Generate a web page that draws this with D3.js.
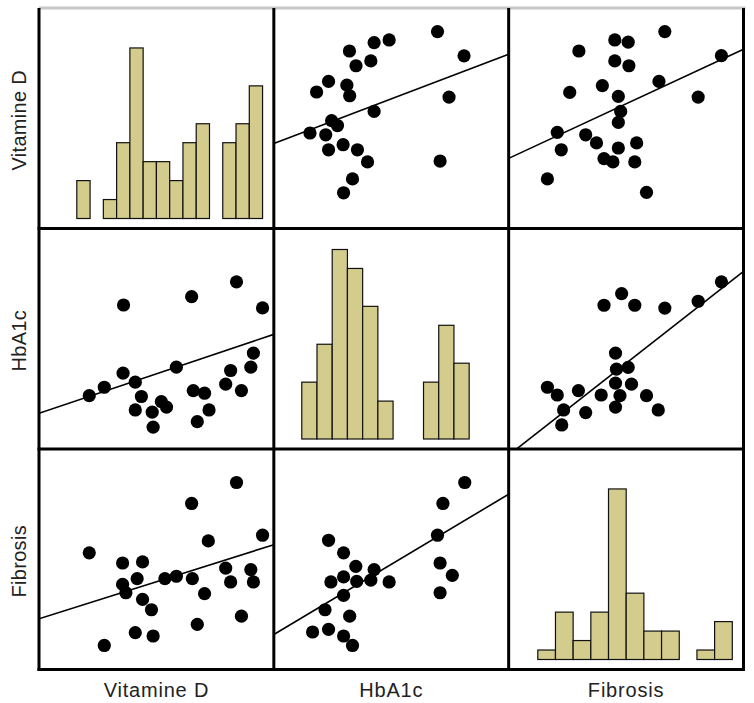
<!DOCTYPE html>
<html lang="en">
<head>
    <meta charset="UTF-8">
    <title>Scatterplot matrix</title>
    <script src="https://d3js.org/d3.v7.min.js"></script>
    <style>
        body {
            margin: 0;
            background: #fff;
        }
        text {
            font-family: "Liberation Sans", Arial, sans-serif;
            fill: #222;
        }
    </style>
</head>
<body>
    <svg id="chart" width="754" height="703"></svg>

    <script>
        // variables, in the order of rows and columns
        const variables = ["Vitamine D", "HbA1c", "Fibrosis"];

        // histogram bins (diagonal), in the 0-100 units of each axis
        const vitdBinStart = 16.1, vitdBinWidth = 5.65;
        const vitdCounts = [2, 0, 1, 4, 9, 3, 3, 2, 4, 5, 0, 4, 5, 7];
        const hbaBinStart = 11.9, hbaBinWidth = 6.48;
        const hbaCounts = [3, 5, 10, 9, 7, 2, 0, 0, 3, 6, 4];
        const fibBinStart = 12.4, fibBinWidth = 7.53;
        const fibCounts = [1, 5, 2, 5, 18, 7, 3, 3, 0, 1, 4];
        const countMax = [10, 10, 20];

        // scatter points [x, y] per cell (row var on y, column var on x)
        const vitdByHba = [[69.7,89.3],[81.0,78.3],[49.1,85.5],[42.7,84.3],[32.2,80.5],[41.3,76.0],[35.0,73.8],[23.3,66.7],[18.2,61.9],[31.1,65.0],[32.3,60.2],[74.6,59.6],[42.7,53.1],[24.6,48.9],[27.1,46.7],[15.4,43.3],[22.1,42.5],[29.5,38.0],[23.3,35.7],[35.6,35.7],[39.9,30.2],[70.8,30.6],[33.5,22.5],[29.7,16.2]];
        const vitdByFib = [[66.5,89.3],[45.2,85.5],[50.9,84.5],[29.9,80.5],[45.2,76.0],[51.2,73.8],[90.6,78.4],[64.0,66.7],[39.9,64.8],[26.0,61.7],[46.7,59.9],[80.7,59.6],[47.7,53.1],[46.7,48.1],[20.7,43.6],[32.8,42.5],[37.4,38.8],[46.7,36.5],[54.5,38.8],[22.4,35.7],[40.6,31.7],[44.4,30.2],[53.7,30.2],[16.5,22.5],[58.7,16.4]];
        const hbaByVitd = [[36.0,65.3],[65.0,69.1],[84.1,75.8],[95.2,64.0],[91.3,43.5],[90.2,37.1],[81.6,35.6],[79.5,29.4],[86.2,26.5],[58.5,37.1],[35.8,34.4],[27.8,28.0],[21.4,24.2],[41.0,30.3],[43.6,23.8],[41.0,17.7],[48.2,16.7],[48.6,9.9],[52.1,21.5],[54.3,19.0],[65.7,26.5],[70.5,25.3],[72.4,17.7],[67.4,12.4]];
        const hbaByFib = [[48.1,70.5],[40.6,65.2],[53.7,65.2],[66.5,63.9],[80.7,67.0],[90.6,75.8],[45.5,43.5],[45.9,36.2],[50.9,37.0],[45.5,29.9],[52.3,29.4],[16.5,28.0],[20.7,24.5],[29.7,26.5],[39.4,24.5],[47.4,24.2],[58.7,24.2],[23.4,17.7],[32.8,16.5],[45.5,19.0],[63.7,17.7],[22.6,10.9]];
        const fibByVitd = [[84.1,84.8],[65.0,75.3],[95.2,60.9],[72.1,58.3],[21.4,52.9],[35.6,48.3],[44.1,48.8],[41.8,41.2],[35.6,38.6],[37.0,34.8],[53.6,41.2],[58.5,42.3],[65.3,41.2],[79.5,46.0],[90.2,45.3],[81.6,39.7],[91.3,39.7],[70.5,34.4],[44.1,31.8],[47.9,27.1],[86.2,24.2],[67.4,20.5],[41.0,16.7],[48.6,15.2],[27.8,10.9]];
        const fibByHba = [[81.3,84.8],[72.0,75.3],[69.7,60.9],[70.8,48.3],[76.0,42.7],[70.8,34.8],[23.3,58.6],[29.7,52.9],[34.9,46.8],[42.7,45.3],[24.3,39.7],[29.7,42.0],[35.3,40.0],[41.3,40.5],[49.1,39.7],[29.7,33.6],[21.8,27.1],[32.3,24.2],[16.5,17.0],[23.3,18.2],[29.7,15.2],[33.5,10.9]];

        // fit lines: y at x=0 and y at x=100
        const fitVitdHba = [38.5, 79.0];
        const fitVitdFib = [31.8, 81.3];
        const fitHbaVitd = [16.2, 52.0];
        const fitHbaFib = [-2.8, 80.6];
        const fitFibVitd = [23.0, 56.6];
        const fitFibHba = [15.9, 79.5];

        const hists = [
            { start: vitdBinStart, width: vitdBinWidth, counts: vitdCounts },
            { start: hbaBinStart, width: hbaBinWidth, counts: hbaCounts },
            { start: fibBinStart, width: fibBinWidth, counts: fibCounts }
        ];
        const cells = {
            "0-1": { pts: vitdByHba, fit: fitVitdHba },
            "0-2": { pts: vitdByFib, fit: fitVitdFib },
            "1-0": { pts: hbaByVitd, fit: fitHbaVitd },
            "1-2": { pts: hbaByFib, fit: fitHbaFib },
            "2-0": { pts: fibByVitd, fit: fitFibVitd },
            "2-1": { pts: fibByHba, fit: fitFibHba }
        };

        const svg = d3.select("#chart");
        const gridLeft = 39, gridTop = 8, gridRight = 743.5, gridBottom = 669.5;
        const n = variables.length;
        const colPos = d3.scaleLinear().domain([0, n]).range([gridLeft, gridRight]);
        const rowPos = d3.scaleLinear().domain([0, n]).range([gridTop, gridBottom]);

        for (let r = 0; r < n; r++) {
            for (let c = 0; c < n; c++) {
                const x0 = colPos(c), x1 = colPos(c + 1);
                const y0 = rowPos(r), y1 = rowPos(r + 1);
                const x = d3.scaleLinear().domain([0, 100]).range([x0, x1]);
                const y = d3.scaleLinear().domain([0, 100]).range([y1, y0]);
                const g = svg.append("g");

                const clipId = "clip" + r + c;
                svg.append("clipPath").attr("id", clipId)
                    .append("rect")
                    .attr("x", x0).attr("y", y0)
                    .attr("width", x1 - x0).attr("height", y1 - y0);

                if (r === c) {
                    const h = hists[r];
                    const yc = d3.scaleLinear().domain([0, countMax[r]]).range([y1 - 10, y0 + 21]);
                    g.selectAll("rect")
                        .data(h.counts.map((v, i) => ({ v, i })).filter(d => d.v > 0))
                        .join("rect")
                        .attr("x", d => x(h.start + d.i * h.width))
                        .attr("width", x(h.start + h.width) - x(h.start))
                        .attr("y", d => yc(d.v))
                        .attr("height", d => yc(0) - yc(d.v))
                        .attr("fill", "#d4cc8c")
                        .attr("stroke", "#111")
                        .attr("stroke-width", 1.2);
                } else {
                    const cell = cells[r + "-" + c];
                    g.selectAll("circle")
                        .data(cell.pts)
                        .join("circle")
                        .attr("cx", d => x(d[0]))
                        .attr("cy", d => y(d[1]))
                        .attr("r", 6.6)
                        .attr("fill", "#000");

                    g.append("line")
                        .attr("clip-path", "url(#" + clipId + ")")
                        .attr("x1", x(0)).attr("y1", y(cell.fit[0]))
                        .attr("x2", x(100)).attr("y2", y(cell.fit[1]))
                        .attr("stroke", "#000")
                        .attr("stroke-width", 1.6);
                }
            }
        }

        // grid lines
        svg.append("line")
            .attr("x1", gridLeft).attr("x2", gridRight + 2)
            .attr("y1", gridTop).attr("y2", gridTop)
            .attr("stroke", "#c8c8c8").attr("stroke-width", 3);
        d3.range(n + 1).forEach(i => {
            svg.append("line")
                .attr("x1", colPos(i)).attr("x2", colPos(i))
                .attr("y1", gridTop).attr("y2", gridBottom + 1.5)
                .attr("stroke", "#000").attr("stroke-width", 3);
            if (i > 0) {
                svg.append("line")
                    .attr("x1", gridLeft - 1.5).attr("x2", gridRight + 1.5)
                    .attr("y1", rowPos(i)).attr("y2", rowPos(i))
                    .attr("stroke", "#000").attr("stroke-width", 3);
            }
        });

        // labels
        variables.forEach((name, i) => {
            svg.append("text")
                .attr("x", (colPos(i) + colPos(i + 1)) / 2)
                .attr("y", 697)
                .attr("text-anchor", "middle")
                .attr("font-size", "20px")
                .attr("letter-spacing", "0.8px")
                .text(name);

            const cy = (rowPos(i) + rowPos(i + 1)) / 2 + 2;
            svg.append("text")
                .attr("transform", "translate(26," + cy + ") rotate(-90)")
                .attr("text-anchor", "middle")
                .attr("font-size", "20px")
                .attr("letter-spacing", "0.3px")
                .text(name);
        });
    </script>
</body>
</html>
